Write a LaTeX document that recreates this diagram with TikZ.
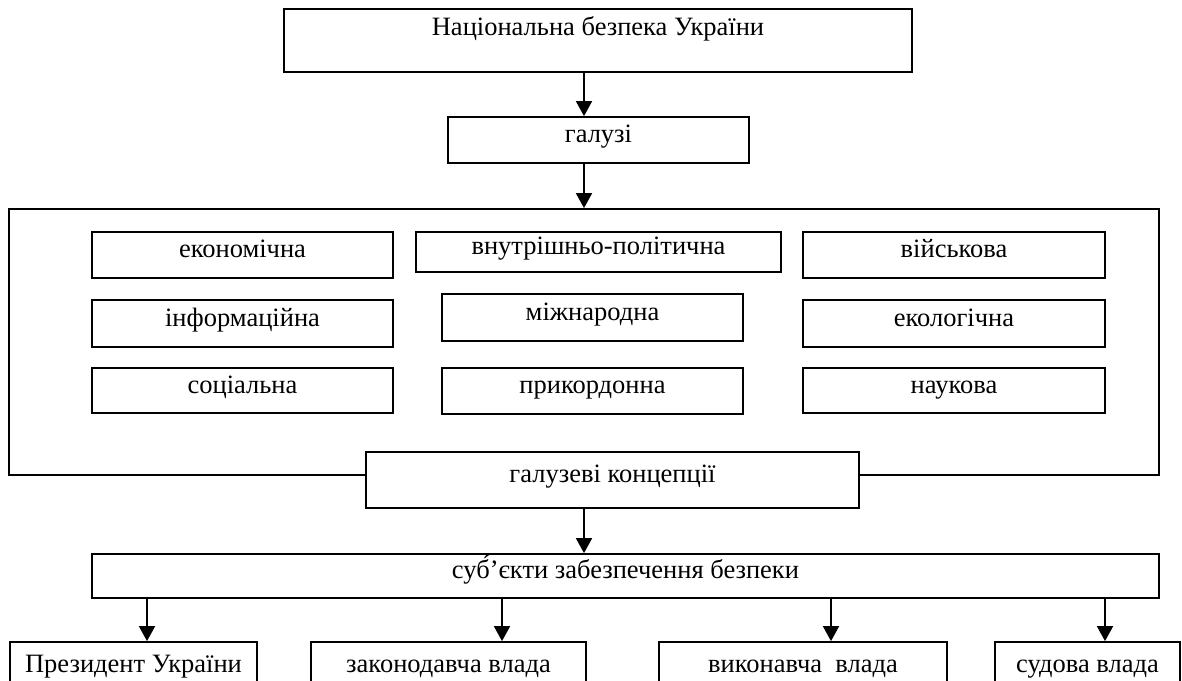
\documentclass[tikz,border=0pt]{standalone}
\usepackage{fontspec}
\setmainfont{Liberation Serif}
\usetikzlibrary{arrows.meta}
\tikzset{
  txt/.style={font=\fontsize{26.5}{30}\selectfont},
  box/.style={draw, line width=1.8pt, fill=white, inner sep=0pt, txt, text height=0.75em, text depth=0.25em},
  arr/.style={line width=1.8pt, -{Triangle[width=16pt,length=15pt]}},
  lbl/.style={inner sep=0pt, txt}
}
\begin{document}
\begin{tikzpicture}[x=1pt,y=-1pt]
\clip (0,0) rectangle (1182,680);
\fill[white] (0,0) rectangle (1182,680);
\coordinate (ax) at (584,0);
% top
\node[box, minimum width=628, minimum height=63] (top) at (598,40.5) {};
\node[lbl, anchor=base] (toptext) at (598,35) {Національна безпека України};
\node[box, minimum width=301, minimum height=46] (gal) at (598.5,140) {галузі};
% big frame
\node[box, fill=none, minimum width=1150, minimum height=266] (big) at (584,342) {};
% inner boxes
\node[box, minimum width=301, minimum height=46] (ek) at (242.5,255) {економічна};
\node[box, minimum width=301, minimum height=47] (inf) at (242.5,323.5) {інформаційна};
\node[box, minimum width=301, minimum height=45] (soc) at (242.5,390.5) {соціальна};
\node[box, minimum width=365, minimum height=40] (vnu) at (598.5,252) {внутрішньо-політична};
\node[box, minimum width=301, minimum height=47] (mizh) at (592.5,317.5) {міжнародна};
\node[box, minimum width=301, minimum height=46] (prik) at (592.5,391) {прикордонна};
\node[box, minimum width=302, minimum height=46] (vijs) at (954,255) {військова};
\node[box, minimum width=302, minimum height=47] (ekol) at (954,323.5) {екологічна};
\node[box, minimum width=302, minimum height=45] (nauk) at (954,390.5) {наукова};
% concepts
\node[box, minimum width=493, minimum height=56] (conc) at (612.5,480) {галузеві концепції};
\node[box, minimum width=1067, minimum height=44] (subj) at (625.5,576) {суб́’єкти забезпечення безпеки};
% bottom
\node[box, minimum width=247, minimum height=56] (pres) at (133.5,670) {Президент України};
\node[box, minimum width=275, minimum height=56] (zak) at (448.5,670) {законодавча влада};
\node[box, minimum width=288, minimum height=56] (vyk) at (803,670) {виконавча\ \ влада};
\node[box, minimum width=185, minimum height=56] (sud) at (1087.5,670) {судова влада};
% arrows
\draw[arr] (top.south -| ax) -- (gal.north -| ax);
\draw[arr] (gal.south -| ax) -- (big.north -| ax);
\draw[arr] (conc.south -| ax) -- (subj.north -| ax);
\coordinate (a1) at (147,598);
\coordinate (a2) at (502,598);
\coordinate (a3) at (831,598);
\coordinate (a4) at (1105,598);
\draw[arr] (a1) -- (a1 |- pres.north);
\draw[arr] (a2) -- (a2 |- zak.north);
\draw[arr] (a3) -- (a3 |- vyk.north);
\draw[arr] (a4) -- (a4 |- sud.north);
\end{tikzpicture}
\end{document}
